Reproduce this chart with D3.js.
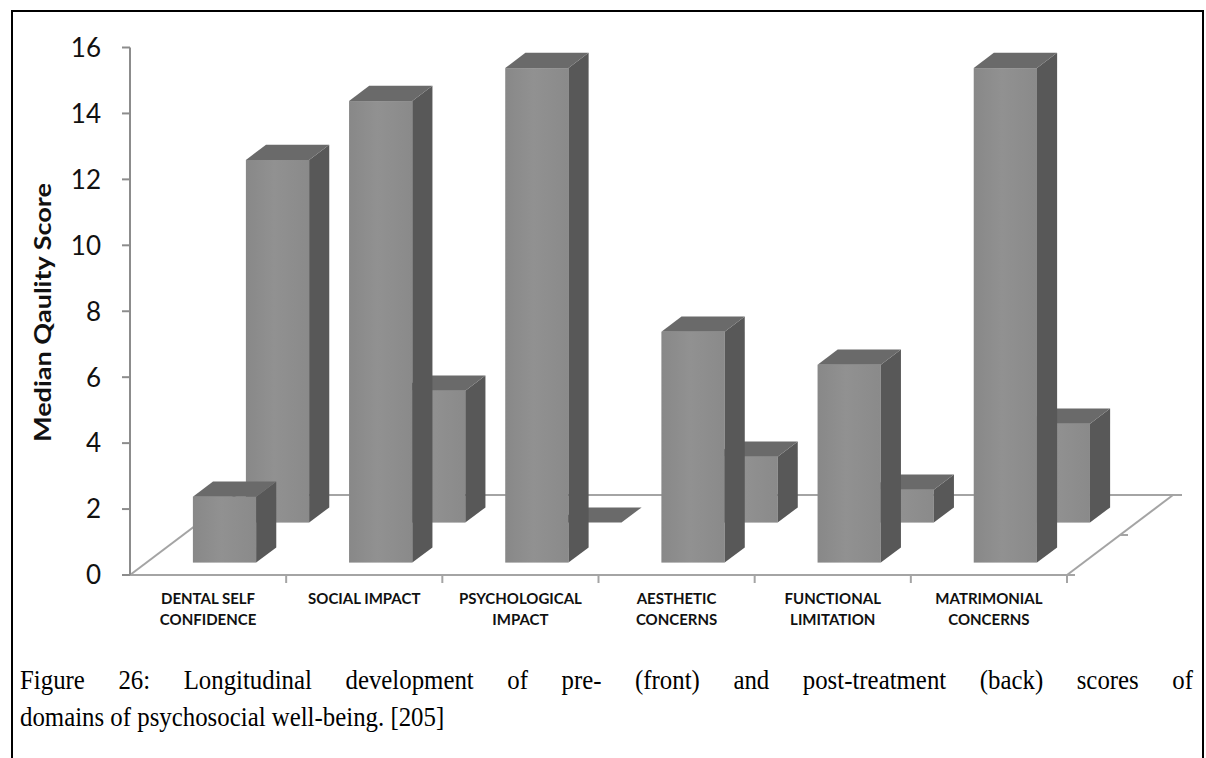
<!DOCTYPE html>
<html>
<head>
<meta charset="utf-8">
<script src="https://cdn.jsdelivr.net/npm/d3@7"></script>
<style>
  html, body { margin: 0; padding: 0; background: #fff; }
  svg { display: block; }
</style>
</head>
<body>
<svg id="chart" width="1206" height="758"></svg>
<script>
// Domains of psychosocial well-being (each label split into its display lines)
const categories = [
  ["DENTAL SELF", "CONFIDENCE"],
  ["SOCIAL IMPACT"],
  ["PSYCHOLOGICAL", "IMPACT"],
  ["AESTHETIC", "CONCERNS"],
  ["FUNCTIONAL", "LIMITATION"],
  ["MATRIMONIAL", "CONCERNS"]
];
// Median quality scores, pre-treatment (front row) and post-treatment (back row)
const preTreatment  = [2, 14, 15, 7, 6, 15];
const postTreatment = [11, 4, 0, 2, 1, 3];
const series = ["pre", "post"];
const yTicks = [0, 2, 4, 6, 8, 10, 12, 14, 16];
const yTitle = "Median Qaulity Score";
const captionLines = [
  "Figure 26: Longitudinal development of pre- (front) and post-treatment (back) scores of",
  "domains of psychosocial well-being. [205]"
];

const svg = d3.select("#chart");
const catKeys = categories.map(c => c.join(" "));

// Layout of the oblique 3-D plot
const plot = { left: 130, right: 1067, base: 575, top: 47.5 };
const floorDepth = { dx: 106, dy: 80 };           // offset from front edge to back edge of the floor

const x = d3.scaleBand().domain(catKeys).range([plot.left, plot.right]);
const y = d3.scaleLinear().domain([0, 16]).range([plot.base, plot.top]);
// depth along the floor (0 = front, 1 = back)
const depth = d3.scalePoint().domain(series).range([0, 1]).padding(0.5);
const barDepth = 0.19;
const barWidth = x.bandwidth() * 0.405;
const off = f => ({ dx: floorDepth.dx * f, dy: floorDepth.dy * f });

// outer frame
svg.append("rect")
  .attr("x", 12).attr("y", 11).attr("width", 1191).attr("height", 800)
  .attr("fill", "none").attr("stroke", "#000").attr("stroke-width", 2);

// face shading
const defs = svg.append("defs");
const grad = defs.append("linearGradient").attr("id", "frontFace")
  .attr("x1", "0%").attr("x2", "100%").attr("y1", "0%").attr("y2", "0%");
grad.append("stop").attr("offset", "0%").attr("stop-color", "#888888");
grad.append("stop").attr("offset", "45%").attr("stop-color", "#919191");
grad.append("stop").attr("offset", "100%").attr("stop-color", "#8a8a8a");

// floor outline
const floorColor = "#a4a4a4";
const floor = svg.append("g").attr("stroke", floorColor).attr("stroke-width", 2).attr("fill", "none");
const back = off(1), mid = off(0.5);
floor.append("line")  // left edge
  .attr("x1", plot.left).attr("y1", plot.base)
  .attr("x2", plot.left + back.dx).attr("y2", plot.base - back.dy);
floor.append("line")  // back edge (extends as a tick)
  .attr("x1", plot.left + back.dx).attr("y1", plot.base - back.dy)
  .attr("x2", plot.right + back.dx + 9).attr("y2", plot.base - back.dy);
floor.append("line")  // right edge
  .attr("x1", plot.right).attr("y1", plot.base)
  .attr("x2", plot.right + back.dx).attr("y2", plot.base - back.dy);
floor.append("line")  // series divider tick
  .attr("x1", plot.right + mid.dx).attr("y1", plot.base - mid.dy)
  .attr("x2", plot.right + mid.dx + 8).attr("y2", plot.base - mid.dy);
floor.append("line")  // front edge (category axis)
  .attr("x1", plot.left).attr("y1", plot.base)
  .attr("x2", plot.right + 8).attr("y2", plot.base);

// category axis ticks at band boundaries
const bounds = catKeys.map(k => x(k)).concat([plot.right]).slice(1);
floor.selectAll("line.ctick").data(bounds).join("line").attr("class", "ctick")
  .attr("x1", d => d).attr("x2", d => d)
  .attr("y1", plot.base).attr("y2", plot.base + 8);

// value axis
const yAxis = svg.append("g").attr("stroke", "#8c8c8c").attr("stroke-width", 2);
yAxis.append("line").attr("x1", plot.left).attr("x2", plot.left)
  .attr("y1", y(16)).attr("y2", plot.base);
yAxis.selectAll("line.tick").data(yTicks).join("line").attr("class", "tick")
  .attr("x1", plot.left - 8).attr("x2", plot.left)
  .attr("y1", d => y(d)).attr("y2", d => y(d));
svg.append("g").selectAll("text").data(yTicks).join("text")
  .attr("x", 101).attr("y", d => y(d)).attr("dy", "0.36em")
  .attr("text-anchor", "end")
  .attr("font-family", "Lato, 'Open Sans', sans-serif")
  .attr("font-size", 26).attr("fill", "#111")
  .text(d => d);

svg.append("text")
  .attr("transform", "translate(51,312.5) rotate(-90)")
  .attr("text-anchor", "middle")
  .attr("font-family", "Lato, 'Open Sans', sans-serif")
  .attr("font-weight", "bold").attr("font-size", 22).attr("fill", "#111")
  .attr("textLength", 259).attr("lengthAdjust", "spacingAndGlyphs")
  .text(yTitle);

// 3-D bars: back row first so the front row overlaps it
function drawBar(g, cat, key, value) {
  const f0 = depth(key) - barDepth / 2;
  const o = off(f0), t = off(barDepth);
  const x0 = x(cat) + (x.bandwidth() - barWidth) / 2 + o.dx;
  const x1 = x0 + barWidth;
  const yb = y(0) - o.dy;
  const yt = y(value) - o.dy;
  const pts = a => a.map(p => p.join(",")).join(" ");
  if (value > 0) {
    g.append("rect").attr("x", x0).attr("y", yt).attr("width", barWidth).attr("height", yb - yt)
      .attr("fill", "url(#frontFace)");
    g.append("polygon")
      .attr("points", pts([[x1, yt], [x1 + t.dx, yt - t.dy], [x1 + t.dx, yb - t.dy], [x1, yb]]))
      .attr("fill", "#585858");
  }
  g.append("polygon")
    .attr("points", pts([[x0, yt], [x0 + t.dx, yt - t.dy], [x1 + t.dx, yt - t.dy], [x1, yt]]))
    .attr("fill", "#6a6a6a");
}
const rows = { pre: preTreatment, post: postTreatment };
["post", "pre"].forEach(key => {
  const g = svg.append("g").attr("class", "row-" + key);
  catKeys.forEach((cat, i) => drawBar(g, cat, key, rows[key][i]));
});

// category labels
const labels = svg.append("g")
  .attr("font-family", "Lato, 'Open Sans', sans-serif")
  .attr("font-weight", "bold").attr("font-size", 15).attr("fill", "#111")
  .attr("text-anchor", "middle");
categories.forEach((lines, i) => {
  const cx = x(catKeys[i]) + x.bandwidth() / 2;
  lines.forEach((ln, j) => {
    labels.append("text").attr("x", cx).attr("y", 604 + j * 21).text(ln);
  });
});

// caption, first line justified to the full width; glyphs set slightly condensed
const capLeft = 20, capRight = 1193, capScaleX = 0.92;
const cap = svg.append("g")
  .attr("font-family", "'Liberation Serif', 'Times New Roman', serif")
  .attr("font-size", 27).attr("fill", "#000");
captionLines.forEach((ln, i) => {
  const t = cap.append("text")
    .attr("transform", `translate(${capLeft},${689 + i * 37}) scale(${capScaleX},1)`)
    .attr("x", 0).attr("y", 0).text(ln);
  if (i === 0) {
    const w = t.node().getComputedTextLength();
    const spaces = (ln.match(/ /g) || []).length;
    t.attr("word-spacing", ((capRight - capLeft) / capScaleX - w) / spaces);
  }
});
</script>
</body>
</html>
